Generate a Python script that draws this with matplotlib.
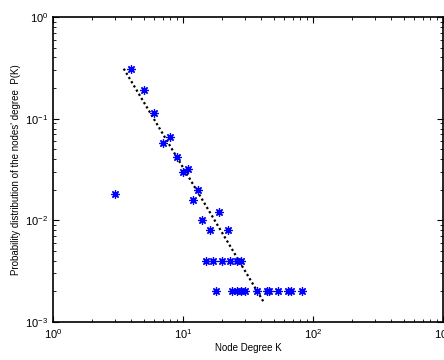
import matplotlib
matplotlib.use('Agg')
import matplotlib.pyplot as plt
import numpy as np

plt.rcParams['font.family'] = ['Liberation Sans', 'DejaVu Sans']
plt.rcParams['mathtext.fontset'] = 'custom'
plt.rcParams['mathtext.rm'] = 'Liberation Sans'

# degree distribution
degree = [3, 4, 5, 6, 7, 8, 9, 10, 11, 12, 13, 14, 16, 19, 22,
          15, 17, 20, 23, 26, 28,
          18, 24, 26, 28, 30, 37, 44, 46, 54, 64, 68, 82]
prob = [0.018, 0.31, 0.19, 0.114, 0.058, 0.066, 0.042, 0.030, 0.032, 0.016, 0.020, 0.010, 0.008, 0.012, 0.008,
        0.004, 0.004, 0.004, 0.004, 0.004, 0.004,
        0.002, 0.002, 0.002, 0.002, 0.002, 0.002, 0.002, 0.002, 0.002, 0.002, 0.002, 0.002]

# power-law fit line end points
fit_k = [3.5, 42]
fit_p = [0.31, 0.00155]

fig = plt.figure(figsize=(4.44, 3.6), dpi=100)
ax = fig.add_axes([0.1194, 0.1056, 0.8784, 0.8472])

ax.plot(fit_k, fit_p, color='black', linestyle=(0, (1, 1.2)), linewidth=1.6)
ax.plot(degree, prob, linestyle='none', marker=(8, 2, 0), markersize=6,
        markeredgewidth=0.9, color='blue')

ax.set_xscale('log')
ax.set_yscale('log')
ax.set_xlim(1, 1000)
ax.set_ylim(1e-3, 1)

ax.tick_params(which='both', direction='in', top=True, right=True, labelsize=8)
ax.tick_params(which='major', length=4, width=0.8)
ax.tick_params(which='minor', length=2.5, width=0.6)
for s in ax.spines.values():
    s.set_linewidth(1.2)

ax.set_xlabel('Node Degree K', fontsize=7, labelpad=2)
ax.set_ylabel("Probability distribution of the nodes' degree  P(K)", fontsize=7, labelpad=3)

fig.savefig('out.png', dpi=100)
